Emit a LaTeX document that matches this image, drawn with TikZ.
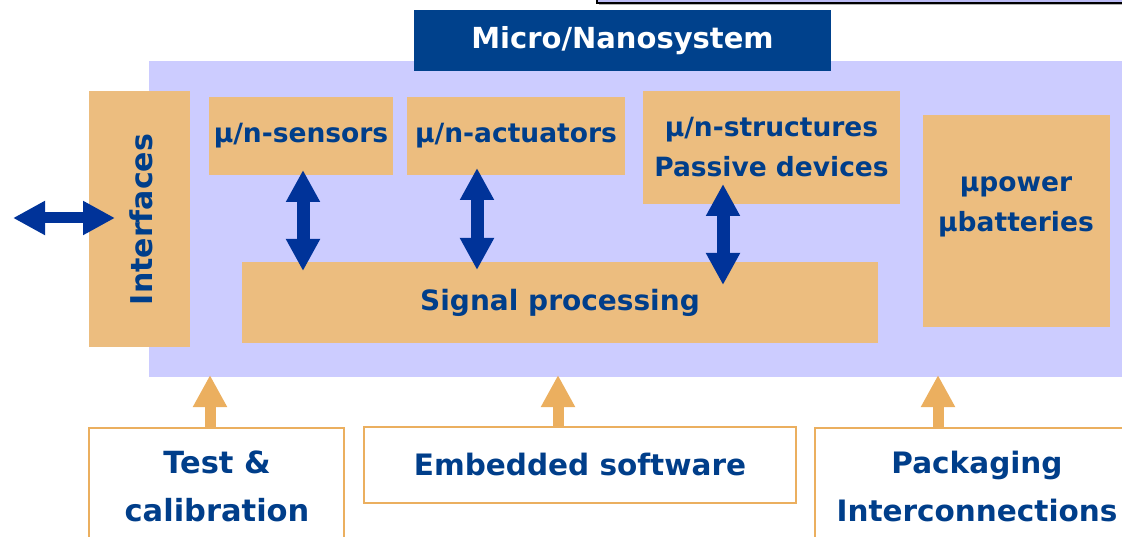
\documentclass[tikz,border=0pt]{standalone}
\usepackage{fontspec}
\setmainfont{DejaVu Sans}
\usetikzlibrary{arrows.meta}

\definecolor{lav}{RGB}{204,204,255}
\definecolor{lavdark}{RGB}{188,188,245}
\definecolor{boxorange}{RGB}{236,189,127}
\definecolor{titleblue}{RGB}{0,65,140}
\definecolor{txtblue}{RGB}{0,62,138}
\definecolor{arrowblue}{RGB}{0,51,153}
\definecolor{lineorange}{RGB}{235,175,95}

\tikzset{
  block/.style={fill=boxorange, draw=none, inner sep=0pt, text=txtblue,
    font=\bfseries\fontsize{26.5}{40}\selectfont, align=center},
  outbox/.style={fill=white, draw=lineorange, line width=2pt, inner sep=0pt,
    text=txtblue, font=\bfseries\fontsize{29.5}{48}\selectfont, align=center},
  bluearrow/.style={draw=arrowblue, line width=13pt,
    {Triangle[width=32pt,length=32pt]}-{Triangle[width=32pt,length=32pt]}},
  sidearrow/.style={draw=arrowblue, line width=11pt,
    {Triangle[width=32pt,length=32pt]}-{Triangle[width=32pt,length=32pt]}},
  uparrow/.style={draw=lineorange, line width=11pt,
    -{Triangle[width=32pt,length=32pt]}}
}

\begin{document}
\begin{tikzpicture}[x=1pt,y=-1pt]
\useasboundingbox (0,0) rectangle (1122,537);
\clip (0,0) rectangle (1122,537);

% frame edge at the top right
\fill[gray!60] (599,0) rectangle (1140,5);
\draw[fill=lavdark, line width=1.5pt] (597,-10) rectangle (1140,3);

% system area
\fill[lav] (149,61) rectangle (1140,377);

% title
\node[fill=titleblue, inner sep=0pt, minimum width=417pt, minimum height=61pt,
  text=white, font=\bfseries\fontsize{29}{34}\selectfont] (title) at (622.5,40.5) {Micro/Nanosystem};

% inner blocks
\node[block, minimum width=101pt, minimum height=256pt] (intf) at (139.5,219) {};
\node[text=txtblue, font=\bfseries\fontsize{30}{34}\selectfont, rotate=90] (intftxt) at (141,219.5) {Interfaces};

\node[block, minimum width=184pt, minimum height=78pt] (sens) at (301,136) {μ/n-sensors};
\node[block, minimum width=218pt, minimum height=78pt] (act) at (516,136) {μ/n-actuators};
\node[block, minimum width=257pt, minimum height=113pt] (struc) at (771.5,147.5) {μ/n-structures\\Passive devices};
\node[block, minimum width=187pt, minimum height=212pt] (power) at (1016.5,221) {};
\node[block, fill=none] (powtxt) at (1016,207) {μpower\\μbatteries};
\node[block, minimum width=636pt, minimum height=81pt, font=\bfseries\fontsize{28}{34}\selectfont] (sig) at (560,302.5) {Signal processing};

% links inside the system
\coordinate (sA) at (303,170);  \coordinate (sB) at (303,271);
\coordinate (aA) at (477,168);  \coordinate (aB) at (477,270);
\coordinate (pA) at (723,184);  \coordinate (pB) at (723,285);
\draw[bluearrow] (sA) -- (sB);
\draw[bluearrow] (aA) -- (aB);
\draw[bluearrow] (pA) -- (pB);

\coordinate (ext) at (13,218);
\coordinate (intin) at (115,218);
\draw[sidearrow] (ext) -- (intin);

% supporting activities
\node[outbox, minimum width=255pt, minimum height=120pt, anchor=north] (test) at (216.5,427) {};
\node[text=txtblue, font=\bfseries\fontsize{30.5}{48}\selectfont, align=center] (testtxt) at (217,486) {Test \&\\calibration};
\node[outbox, minimum width=432pt, minimum height=76pt] (emb) at (580,465) {Embedded software};
\node[outbox, minimum width=324pt, minimum height=120pt, anchor=north] (pack) at (977,427) {};
\node[text=txtblue, font=\bfseries\fontsize{29.5}{48}\selectfont, align=center] (packtxt) at (977,487) {Packaging\\Interconnections};

\coordinate (tTip) at (210,375);
\coordinate (eTip) at (558,375);
\coordinate (kTip) at (938,375);
\draw[uparrow] (test.north -| tTip) -- (tTip);
\draw[uparrow] (emb.north -| eTip) -- (eTip);
\draw[uparrow] (pack.north -| kTip) -- (kTip);
\end{tikzpicture}
\end{document}
